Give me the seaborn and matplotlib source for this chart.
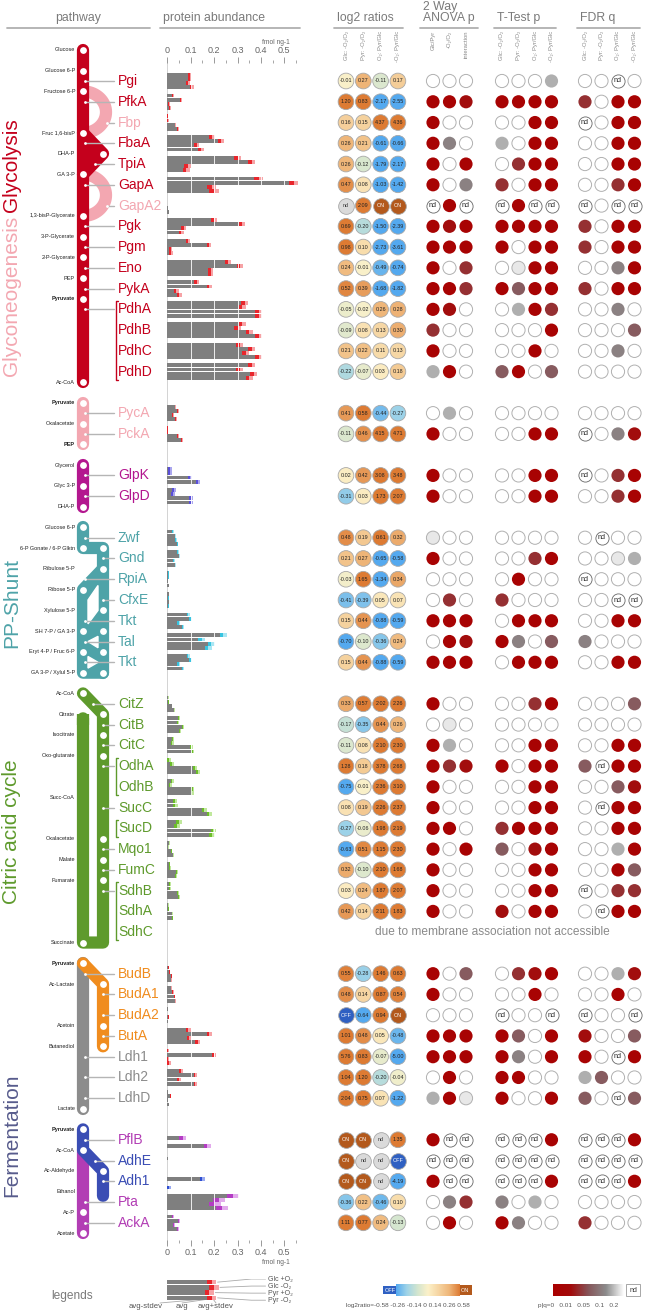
import numpy as np
import pandas as pd
import matplotlib
matplotlib.use('Agg')
import matplotlib.pyplot as plt
from matplotlib.colors import LinearSegmentedColormap, Normalize
import seaborn as sns

sns.set_style('white')
plt.rcParams['font.family'] = ['Liberation Sans', 'DejaVu Sans']

# ---------------- data ----------------
enzymes = ['Pgi', 'PfkA', 'Fbp', 'FbaA', 'TpiA', 'GapA', 'GapA2', 'Pgk', 'Pgm', 'Eno', 'PykA',
           'PdhA', 'PdhB', 'PdhC', 'PdhD', 'PycA', 'PckA', 'GlpK', 'GlpD',
           'Zwf', 'Gnd', 'RpiA', 'CfxE', 'Tkt', 'Tal', 'Tkt',
           'CitZ', 'CitB', 'CitC', 'OdhA', 'OdhB', 'SucC', 'SucD', 'Mqo1', 'FumC', 'SdhB', 'SdhA', 'SdhC',
           'BudB', 'BudA1', 'BudA2', 'ButA', 'Ldh1', 'Ldh2', 'LdhD', 'PflB', 'AdhE', 'Adh1', 'Pta', 'AckA']
rows = (list(range(0, 15)) + [16, 17, 19, 20] + list(range(22, 29)) + list(range(30, 42))
        + list(range(43, 50)) + list(range(51, 56)))
groups = (['gly'] * 2 + ['neo'] + ['gly'] * 3 + ['neo'] + ['gly'] * 8 + ['neo'] * 2 + ['glp'] * 2
          + ['pp'] * 7 + ['tca'] * 12 + ['bud'] * 4 + ['ldh'] * 3 + ['pfl', 'adh', 'adh', 'pfl', 'pfl'])

# protein abundance, fmol ng-1 (avg) for Glc +O2, Glc -O2, Pyr +O2, Pyr -O2
abund_glc_ox = [0.095, 0.025, 0.002, 0.19, 0.30, 0.39, 0, 0.20, 0.09, 0.26, 0.125,
                0.33, 0.32, 0.31, 0.36, 0.035, 0.0025, 0.0115, 0.03,
                0.025, 0.045, 0.006, 0.008, 0.09, 0.24, 0.09,
                0.005, 0.05, 0.024, 0.0085, 0.021, 0.033, 0.05, 0.008, 0.0095, 0.012, 0.005, 0,
                0.007, 0.017, 0.003, 0.09, 0.004, 0.06, 0.0035, 0, 0, 0, 0.28, 0.023]
abund_glc_anox = [0.095, 0.057, 0.003, 0.23, 0.36, 0.54, 0, 0.32, 0.177, 0.31, 0.18,
                  0.32, 0.30, 0.36, 0.31, 0.047, 0.0023, 0.0117, 0.024,
                  0.035, 0.052, 0.006, 0.006, 0.10, 0.148, 0.10,
                  0.0063, 0.044, 0.022, 0.021, 0.0125, 0.035, 0.041, 0.005, 0.012, 0.012, 0.0067, 0,
                  0.01, 0.024, 0, 0.18, 0.20, 0.12, 0.0145, 0.065, 0.003, 0.15, 0.22, 0.05]
abund_pyr_ox = [0.088, 0.006, 0.035, 0.125, 0.087, 0.19, 0.002, 0.07, 0.014, 0.185, 0.039,
                0.39, 0.35, 0.335, 0.37, 0.026, 0.044, 0.098, 0.10,
                0.038, 0.029, 0.0024, 0.008, 0.049, 0.187, 0.049,
                0.02, 0.068, 0.103, 0.117, 0.108, 0.158, 0.197, 0.018, 0.041, 0.044, 0.0216, 0,
                0.019, 0.031, 0.006, 0.093, 0.004, 0.05, 0.0037, 0, 0, 0, 0.205, 0.027]
abund_pyr_anox = [0.105, 0.01, 0.045, 0.145, 0.08, 0.20, 0.008, 0.06, 0.015, 0.185, 0.051,
                  0.39, 0.39, 0.39, 0.35, 0.039, 0.061, 0.13, 0.102,
                  0.044, 0.035, 0.0075, 0.006, 0.067, 0.175, 0.067,
                  0.03, 0.053, 0.109, 0.132, 0.107, 0.18, 0.19, 0.025, 0.038, 0.05, 0.0237, 0,
                  0.016, 0.034, 0.004, 0.13, 0.007, 0.12, 0.0062, 0.17, 0, 0.008, 0.235, 0.046]
abund_sd = [0.008, 0.004, 0.004, 0.012, 0.015, 0.02, 0.001, 0.012, 0.008, 0.012, 0.01,
            0.015, 0.015, 0.015, 0.015, 0.004, 0.004, 0.008, 0.008,
            0.003, 0.003, 0.001, 0.001, 0.006, 0.015, 0.006,
            0.002, 0.004, 0.006, 0.008, 0.007, 0.01, 0.012, 0.002, 0.003, 0.004, 0.002, 0,
            0.002, 0.003, 0.001, 0.01, 0.01, 0.008, 0.001, 0.015, 0.001, 0.01, 0.025, 0.004]

# log2 ratios: Glc -O2/O2, Pyr -O2/O2, O2 Pyr/Glc, -O2 Pyr/Glc
log2_glc = ['-0.01', '1.20', '0.16', '0.26', '0.26', '0.47', 'nd', '0.69', '0.98', '0.24', '0.52',
            '-0.05', '-0.09', '0.21', '-0.22', '0.41', '-0.11', '0.02', '-0.31',
            '0.48', '0.21', '-0.03', '-0.41', '0.15', '-0.70', '0.15',
            '0.33', '-0.17', '-0.11', '1.28', '-0.75', '0.08', '-0.27', '-0.63', '0.32', '0.03', '0.42', '',
            '0.55', '0.48', 'OFF', '1.01', '5.76', '1.04', '2.04', 'ON', 'ON', 'ON', '-0.36', '1.11']
log2_pyr = ['0.27', '0.83', '0.15', '0.21', '-0.12', '0.08', '2.09', '-0.20', '0.10', '-0.01', '0.39',
            '-0.02', '0.08', '0.22', '-0.07', '0.58', '0.46', '0.42', '0.03',
            '0.19', '0.27', '1.65', '-0.39', '0.44', '-0.10', '0.44',
            '0.57', '-0.35', '0.08', '0.18', '-0.01', '0.19', '-0.06', '0.51', '-0.10', '0.24', '0.14', '',
            '-0.28', '0.14', '-0.64', '0.48', '0.83', '1.20', '0.75', 'ON', 'nd', 'ON', '0.22', '0.77']
log2_ox = ['-0.11', '-2.17', '4.37', '-0.61', '-1.79', '-1.03', 'ON', '-1.50', '-2.73', '-0.49', '-1.68',
           '0.26', '0.13', '0.11', '0.03', '-0.44', '4.15', '3.08', '1.73',
           '0.61', '-0.65', '-1.34', '0.05', '-0.88', '-0.36', '-0.88',
           '2.02', '0.44', '2.10', '3.78', '2.36', '2.26', '1.98', '1.15', '2.10', '1.87', '2.11', '',
           '1.46', '0.87', '0.94', '0.05', '-0.07', '-0.20', '0.07', 'nd', 'nd', 'nd', '-0.46', '0.24']
log2_anox = ['0.17', '-2.55', '4.36', '-0.66', '-2.17', '-1.42', 'ON', '-2.39', '-3.61', '-0.74', '-1.82',
             '0.28', '0.30', '0.13', '0.18', '-0.27', '4.71', '3.48', '2.07',
             '0.32', '-0.58', '0.34', '0.07', '-0.59', '0.24', '-0.59',
             '2.26', '0.26', '2.30', '2.68', '3.10', '2.37', '2.19', '2.30', '1.68', '2.07', '1.83', '',
             '0.63', '0.54', 'ON', '-0.48', '-5.00', '-0.04', '-1.22', '1.35', 'OFF', '-4.19', '0.10', '-0.13']

# significance classes read from the circles
# R p<0.01, r ~0.01, m ~0.03, q ~0.05, g ~0.08, l ~0.12, e ~0.17, w >0.2, n not determined
anova_p = ['www', 'RRr', 'Rww', 'Rgw', 'RwR', 'Rwg', 'nRn', 'RrR', 'RRR', 'Rwm', 'RRm',
           'Rrw', 'mww', 'Rww', 'lRw', 'wlw', 'Rww', 'Rww', 'Rww',
           'eww', 'Rww', 'www', 'wmw', 'RRR', 'wRr', 'RRR',
           'Rww', 'wew', 'Rlw', 'Rmr', 'Rww', 'Rww', 'RRw', 'RwR', 'Rww', 'Rww', 'Rww', '',
           'Rwq', 'Rww', 'www', 'RRR', 'RRR', 'wRw', 'lRe', 'Rnn', 'nnn', 'Rnn', 'wgm', 'wRw']
ttest_p = ['wwwl', 'RRRR', 'wwRR', 'lwRR', 'wmRR', 'mwRR', 'nRnn', 'RRRR', 'RwRR', 'weRR', 'RqRR',
           'wlRm', 'wwwR', 'wwRw', 'qRwq', 'wwww', 'wwRR', 'wwRR', 'wwRR',
           'wwww', 'wwmR', 'wRww', 'mwww', 'wRRR', 'Rgwq', 'wRRR',
           'wwmR', 'wwww', 'wwRR', 'RwRR', 'wwRR', 'wwRR', 'mRRR', 'qwrR', 'wwRR', 'wwRR', 'rwRR', '',
           'wmrR', 'wwRw', 'nwwn', 'RqwR', 'RgwR', 'RRww', 'RwwR', 'nnnR', 'nnnn', 'nnnR', 'gwlw', 'Rgww']
fdr_q = ['wwnw', 'mwRR', 'nwRR', 'wwRR', 'wwRR', 'wwmR', 'nwnn', 'mwRR', 'mwRR', 'wwgR', 'mwRR',
         'wwgw', 'wwwq', 'wwgw', 'wwww', 'wwww', 'nwgr', 'nwmR', 'wwmR',
         'wnww', 'wwel', 'nwww', 'wwnn', 'wwRR', 'gwww', 'wwRR',
         'wwwq', 'wwww', 'wwRR', 'qnRR', 'wwqr', 'wnRR', 'wwRR', 'wwlR', 'wwRq', 'nwmm', 'wnRR', '',
         'wwlr', 'wwRw', 'nwwn', 'rwwq', 'RwnR', 'lqww', 'qwnq', 'nnnR', 'nnnn', 'nnnR', 'wwww', 'mwww']
p_level = {'R': 0.003, 'r': 0.011, 'm': 0.03, 'q': 0.055, 'g': 0.09, 'l': 0.13, 'e': 0.18, 'w': 0.5}

log2_cols = ['Glc: -O\u2082/O\u2082', 'Pyr: -O\u2082/O\u2082', 'O\u2082: Pyr/Glc', '-O\u2082: Pyr/Glc']
anova_cols = ['Glc/Pyr', '-O\u2082/O\u2082', 'interaction']
log2_ticks = ['-0.58', '-0.26', '-0.14', '0', '0.14', '0.26', '0.58']
p_ticks = ['0', '0.01', '0.05', '0.1', '0.2']

metabolites = [('Glucose', -1.5, 0), ('Glucose 6-P', -0.5, 0), ('Fructose 6-P', 0.5, 0),
               ('Fruc 1,6-bisP', 2.5, 0), ('DHA-P', 3.5, 0), ('GA 3-P', 4.5, 0),
               ('1,3-bisP-Glycerate', 6.5, 0), ('3-P-Glycerate', 7.5, 0), ('2-P-Glycerate', 8.5, 0),
               ('PEP', 9.5, 0), ('Pyruvate', 10.5, 1), ('Ac-CoA', 14.5, 0),
               ('Pyruvate', 15.5, 1), ('Oxalacetate', 16.5, 0), ('PEP', 17.5, 1),
               ('Glycerol', 18.5, 0), ('Glyc 3-P', 19.5, 0), ('DHA-P', 20.5, 0),
               ('Glucose 6-P', 21.5, 0), ('6-P Gonate / 6-P Glktn', 22.5, 0), ('Ribulose 5-P', 23.5, 0),
               ('Ribose 5-P', 24.5, 0), ('Xylulose 5-P', 25.5, 0), ('SH 7-P / GA 3-P', 26.5, 0),
               ('Eryt 4-P / Fruc 6-P', 27.5, 0), ('GA 3-P / Xylul 5-P', 28.5, 0),
               ('Ac-CoA', 29.5, 0), ('Citrate', 30.5, 0), ('Isocitrate', 31.5, 0), ('Oxo-glutarate', 32.5, 0),
               ('Succ-CoA', 34.5, 0), ('Oxalacetate', 36.5, 0), ('Malate', 37.5, 0), ('Fumarate', 38.5, 0),
               ('Succinate', 41.5, 0),
               ('Pyruvate', 42.5, 1), ('Ac-Lactate', 43.5, 0), ('Acetoin', 45.5, 0), ('Butanediol', 46.5, 0),
               ('Lactate', 49.5, 0),
               ('Pyruvate', 50.5, 1), ('Ac-CoA', 51.5, 0), ('Ac-Aldehyde', 52.5, 0), ('Ethanol', 53.5, 0),
               ('Ac-P', 54.5, 0), ('Acetate', 55.5, 0)]

# ---------------- style ----------------
label_color = {'gly': '#c4001c', 'neo': '#f3a7b1', 'glp': '#b3168f', 'pp': '#4ea3a8', 'tca': '#5e9a2c',
               'bud': '#f08c1e', 'ldh': '#8c8c8c', 'pfl': '#b23db4', 'adh': '#3a4db4'}
bar_color = {'gly': ('#e8262c', '#f6a3a6'), 'neo': ('#e8262c', '#f6a3a6'), 'glp': ('#5a4fd8', '#aaa6ee'),
             'pp': ('#38c4e0', '#a9e6f3'), 'tca': ('#6cbd2a', '#c0e89c'), 'bud': ('#e8262c', '#f6a3a6'),
             'ldh': ('#e8262c', '#f6a3a6'), 'pfl': ('#b43cc4', '#e2aaec'), 'adh': ('#2f4fd0', '#9aaaf0')}
GREY_TXT = '#7a7a7a'

W, H = 651, 1313
Y0, DY = 81.0, 20.76           # pixel of row 0 and row pitch
ROW_TOP, ROW_BOT = -Y0 / DY, (H - Y0) / DY


def R(px):
    return (px - Y0) / DY


fig = plt.figure(figsize=(W / 100, H / 100), dpi=100)


def add_ax(x0, x1, xlim, y0=0, y1=H, ylim=None):
    ax = fig.add_axes([x0 / W, 1 - y1 / H, (x1 - x0) / W, (y1 - y0) / H])
    ax.set_xlim(*xlim)
    ax.set_ylim(*(ylim if ylim else (ROW_BOT, ROW_TOP)))
    ax.axis('off')
    return ax


bg = add_ax(0, W, (0, W))

# headers
for txt, x0, x1 in [('pathway', 10, 150), ('protein abundance', 163, 300), ('log2 ratios', 337, 403),
                    ('2 Way\nANOVA p', 423, 478), ('T-Test p', 497, 556), ('FDR q', 580, 640)]:
    cx = 78 if txt == 'pathway' else x0
    bg.text(cx, R(24), txt, ha='center' if txt == 'pathway' else 'left', va='bottom',
            fontsize=8.8, color=GREY_TXT, linespacing=0.9)
    bg.plot([x0 - 3, x1], [R(27.5), R(27.5)], color='#b0b0b0', lw=1.3)

# ---------------- pathway diagram ----------------
XA, XB = 83, 103
LW = 8.8


def pipe(xs, ys, color, z=2, lw=LW):
    bg.plot(xs, ys, color=color, lw=lw, solid_capstyle='round', solid_joinstyle='round', zorder=z)


def holes(pts):
    xs, ys = zip(*pts)
    bg.scatter(xs, ys, s=24, color='white', zorder=6, linewidths=0)


red, pink, mag, teal, green = '#c4001c', '#f3a7b1', '#b3168f', '#4ea3a8', '#5e9a2c'
orange, grey, purple, blue = '#f08c1e', '#8c8c8c', '#b23db4', '#3a4db4'

# glycolysis
pipe([XA, XA], [-1.5, 14.5], red)
bg.fill([XA, XB, XA], [2.5, 3.5, 4.5], color=red, zorder=2)
pipe([XA, XB, XA], [2.5, 3.5, 4.5], red)
t = np.linspace(0, np.pi, 50)
pipe(XA + 23 * np.sin(t), 1.5 - np.cos(t), pink, z=1)
pipe(XA + 23 * np.sin(t), 5.5 - np.cos(t), pink, z=1)
holes([(XA, r) for r in [-1.5, -0.5, 0.5, 2.5, 4.5, 6.5, 7.5, 8.5, 9.5, 10.5, 14.5]] + [(XB, 3.5)])
# gluconeogenesis, glycerol
pipe([XA, XA], [15.5, 17.5], pink)
holes([(XA, r) for r in [15.5, 16.5, 17.5]])
pipe([XA, XA], [18.5, 20.5], mag)
holes([(XA, r) for r in [18.5, 19.5, 20.5]])
# pentose phosphate
pipe([XA, XA, XB, XB], [21.5, 22.5, 22.5, 28.5], teal)
bg.fill([XB, XA, XA, XB], [23.5, 24.5, 28.5, 28.5], color=teal, zorder=2)
pipe([XB, XA, XA, XB], [23.5, 24.5, 28.5, 28.5], teal)
bg.fill([XA + 5, XB - 5, XB - 5, XA + 5], [25.0, 24.3, 25.5, 26.15], color='white', zorder=3)
bg.fill([XA + 5, XB - 5, XB - 5], [27.0, 26.75, 27.3], color='white', zorder=3)
bg.fill([XB - 5, XA + 5, XA + 5], [28.0, 27.72, 28.28], color='white', zorder=3)
holes([(XA, 21.5), (XA, 22.5), (XB, 22.5), (XB, 23.5), (XA, 24.5), (XB, 25.5)]
      + [(x, r) for r in [26.5, 27.5, 28.5] for x in (XA, XB)])
# citric acid cycle
pipe([XA, XB, XB, XA, XA], [29.5, 30.5, 41.5, 41.5, 30.7], green)
bg.plot([XA, XA], [30.5, 31.0], color=green, lw=LW, solid_capstyle='butt', zorder=2)
holes([(XA, 29.5), (XB, 30.5), (XB, 31.5), (XB, 32.5), (XB, 36.5), (XB, 37.5), (XB, 38.5), (XA, 41.5)])
# fermentation
pipe([XA, XA], [42.5, 49.5], grey, z=1)
pipe([XA, XB, XB], [42.5, 43.5, 46.5], orange)
holes([(XA, 42.5), (XB, 43.5), (XB, 45.5), (XB, 46.5), (XA, 49.5)])
pipe([XA, XA], [51.5, 55.5], purple, z=1)
pipe([XA, XA, XB, XB], [50.5, 51.5, 52.5, 53.7], blue)
holes([(XA, 50.5), (XA, 51.5), (XB, 52.5), (XA, 54.5), (XA, 55.5)])

# metabolite labels
for name, r, bold in metabolites:
    bg.text(75, r, name, ha='right', va='center', fontsize=4.0,
            fontweight='bold' if bold else 'normal', color='#222222')

# enzyme labels and connectors
conn_start = {'Fbp': XA + 24, 'GapA2': XA + 24, 'TpiA': XA + 12, 'Gnd': XB, 'CfxE': XB,
              'AdhE': XA + 12, 'Adh1': XB, 'CitB': XB, 'CitC': XB, 'OdhA': XB, 'SucC': XB,
              'Mqo1': XB, 'FumC': XB, 'SdhB': XB, 'BudA1': XB, 'BudA2': XB, 'ButA': XB, 'CitZ': XA + 10}
no_conn = {'PdhB', 'PdhC', 'PdhD', 'OdhB', 'SucD', 'SdhA', 'SdhC'}
for name, r, g in zip(enzymes, rows, groups):
    bg.text(118, r, name, ha='left', va='center', fontsize=10, color=label_color[g])
    if name not in no_conn:
        x0 = conn_start.get(name, XA + 2)
        bg.plot([x0, 114], [r, r], color='#b5b5b5', lw=1.0, zorder=4)
        bg.scatter([x0], [r], s=4, color='white', zorder=7, linewidths=0)
for ra, rb, col in [(10.6, 14.4, red), (32.6, 34.4, green), (35.6, 36.4, green), (38.6, 41.4, green)]:
    bg.plot([118, 115.5, 115.5, 118], [ra, ra, rb, rb], color=col, lw=1.0)

# section titles
for txt, r, col in [('Glycolysis', R(165), red), ('Glyconeogenesis', R(296), pink),
                    ('PP-Shunt', R(603), teal), ('Citric acid cycle', R(832), green),
                    ('Fermentation', R(1135), '#575b8c')]:
    bg.text(11.5, r, txt, rotation=90, ha='center', va='center', fontsize=15, color=col)

# ---------------- protein abundance bars ----------------
BX0, SCALE = 167.3, 234.0      # pixel of 0 and pixels per fmol ng-1
XMAX = 0.6
axb = add_ax(BX0, BX0 + SCALE * XMAX, (0, XMAX))
conds = [abund_glc_ox, abund_glc_anox, abund_pyr_ox, abund_pyr_anox]
for k, vals in enumerate(conds):
    y = np.array(rows) + (k - 1.5) * 0.2
    avg = np.array(vals)
    sd = np.minimum(np.array(abund_sd), avg)
    dark = [bar_color[g][0] for g in groups]
    light = [bar_color[g][1] for g in groups]
    axb.barh(y, avg - sd, height=0.185, color='#7f7f7f', linewidth=0)
    axb.barh(y, sd, left=avg - sd, height=0.185, color=dark, linewidth=0)
    axb.barh(y, sd, left=avg, height=0.185, color=light, linewidth=0)
axb.vlines(0, -1.0, 56.0, color='#cccccc', lw=0.6, zorder=0)
axb.vlines(np.arange(0.1, 0.51, 0.1), -0.6, 55.6, color='white', lw=0.6, zorder=5)


def tick_axis(y_px, top):
    ax = fig.add_axes([BX0 / W, 1 - y_px / H, SCALE * XMAX / W, 1e-4])
    ax.set_xlim(0, XMAX)
    for s in ax.spines.values():
        s.set_visible(False)
    ax.set_yticks([])
    ax.set_xticks(np.arange(0, 0.51, 0.1))
    ax.set_xticklabels(['0', '0.1', '0.2', '0.3', '0.4', '0.5'])
    ax.set_xticks(np.arange(0.05, 0.56, 0.1), minor=True)
    ax.tick_params(axis='x', which='major', length=4, width=0.7, color='#999999',
                   labelsize=6.5, labelcolor='#666666', pad=1.5,
                   top=top, labeltop=top, bottom=not top, labelbottom=not top)
    ax.tick_params(axis='x', which='minor', length=2, width=0.6, color='#999999',
                   top=top, bottom=not top)
    return ax


tick_axis(63, True)
tick_axis(1240, False)
bg.text(290, R(42), 'fmol ng-1', ha='right', va='center', fontsize=4.8, color='#666666')
bg.text(290, R(1263), 'fmol ng-1', ha='right', va='center', fontsize=4.8, color='#666666')

# ---------------- log2 ratio circles ----------------
l2_colors = ['#54a9ef', '#9ed3e8', '#d2e5cf', '#fcf1c9', '#f6d5a2', '#efb679', '#dd7b33']
l2_cmap = LinearSegmentedColormap.from_list('l2', list(zip(
    [(float(v) + 0.58) / 1.16 for v in log2_ticks], l2_colors)))
l2_norm = Normalize(-0.58, 0.58, clip=True)
special = {'ON': ('#b3591c', 'white'), 'OFF': ('#2f60c2', 'white'), 'nd': ('#dadada', '#333333')}

LX, LSP = 346, 17.3
axl = add_ax(LX - LSP / 2, LX + 3.5 * LSP, (-0.5, 3.5))
recs = []
for c, col in enumerate([log2_glc, log2_pyr, log2_ox, log2_anox]):
    for r, v in zip(rows, col):
        if v:
            recs.append((c, r, v))
l2 = pd.DataFrame(recs, columns=['col', 'row', 'txt'])
num = l2[~l2.txt.isin(special.keys())].copy()
num['val'] = num.txt.astype(float)
sns.scatterplot(data=num, x='col', y='row', hue='val', palette=l2_cmap, hue_norm=l2_norm,
                s=128, edgecolor='#a8a8a8', linewidth=0.6, legend=False, ax=axl, zorder=3)
for key, (fc, tc) in special.items():
    sub = l2[l2.txt == key]
    if len(sub):
        sns.scatterplot(data=sub, x='col', y='row', color=fc, s=128, edgecolor='#a8a8a8',
                        linewidth=0.6, legend=False, ax=axl, zorder=3)
for _, rec in l2.iterrows():
    tc = special[rec.txt][1] if rec.txt in special else '#222222'
    axl.text(rec.col, rec.row, rec.txt, ha='center', va='center', fontsize=3.9, color=tc, zorder=4)
axl.axis('off')
axl.set_xlim(-0.5, 3.5)
axl.set_ylim(ROW_BOT, ROW_TOP)
for c, lab in enumerate(log2_cols):
    axl.text(c, R(31), lab, rotation=90, ha='center', va='top', fontsize=4.2, color='#888888')

# ---------------- p / q circles ----------------
p_colors = ['#aa0000', '#a30b0b', '#86565a', '#8c8c8c', '#ffffff']
p_cmap = LinearSegmentedColormap.from_list('p', list(zip([0.0, 0.05, 0.25, 0.5, 1.0], p_colors)))
p_norm = Normalize(0, 0.2, clip=True)
PSP = 16.5
for codes, x_first, labels in [(anova_p, 433, anova_cols), (ttest_p, 502, log2_cols),
                               (fdr_q, 585, log2_cols)]:
    n = len(labels)
    ax = add_ax(x_first - PSP / 2, x_first + (n - 0.5) * PSP, (-0.5, n - 0.5))
    recs = [(c, r, ch) for r, s in zip(rows, codes) for c, ch in enumerate(s)]
    df = pd.DataFrame(recs, columns=['col', 'row', 'code'])
    vals = df[df.code != 'n'].copy()
    vals['p'] = vals.code.map(p_level)
    edges = ['#b0b0b0' if p > 0.15 else 'none' for p in vals.p]
    sns.scatterplot(data=vals, x='col', y='row', hue='p', palette=p_cmap, hue_norm=p_norm,
                    s=90, edgecolor=edges, linewidth=0.7, legend=False, ax=ax, zorder=3)
    nd = df[df.code == 'n']
    sns.scatterplot(data=nd, x='col', y='row', color='white', s=90, edgecolor='#666666',
                    linewidth=0.6, legend=False, ax=ax, zorder=3)
    for _, rec in nd.iterrows():
        ax.text(rec.col, rec.row, 'nd', ha='center', va='center', fontsize=5.2, color='#222222', zorder=4)
    ax.axis('off')
    ax.set_xlim(-0.5, n - 0.5)
    ax.set_ylim(ROW_BOT, ROW_TOP)
    for c, lab in enumerate(labels):
        ax.text(c, R(31), lab, rotation=90, ha='center', va='top', fontsize=4.2, color='#888888')

bg.text(492, 41, 'due to membrane association not accessible', ha='center', va='center',
        fontsize=8.6, color='#8a8a8a')

# ---------------- legends ----------------
bg.text(72, R(1296), 'legends', ha='center', va='center', fontsize=8.6, color=GREY_TXT)
axlg = add_ax(BX0, BX0 + SCALE * XMAX, (0, XMAX), 1279, 1301, (3.6, -0.6))
leg_avg = [0.19, 0.2, 0.18, 0.19]
for k in range(4):
    axlg.barh(k, leg_avg[k] - 0.02, height=0.85, color='#7f7f7f', linewidth=0)
    axlg.barh(k, 0.02, left=leg_avg[k] - 0.02, height=0.85, color='#e8262c', linewidth=0)
    axlg.barh(k, 0.02, left=leg_avg[k], height=0.85, color='#f6a3a6', linewidth=0)
for k, lab in enumerate(['Glc +O\u2082', 'Glc -O\u2082', 'Pyr +O\u2082', 'Pyr -O\u2082']):
    ylab = -0.6 + k * 1.35
    axlg.plot([leg_avg[k] + 0.025, 0.36, 0.42], [k, ylab, ylab], color='#aaaaaa', lw=0.6)
    axlg.text(0.43, ylab, lab, fontsize=5, va='center', color='#555555')
for lab, x, xp in [('avg-stdev', 146, 205), ('avg', 182, 209), ('avg+stdev', 216, 213)]:
    bg.text(x, R(1307), lab, ha='center', va='center', fontsize=5.6, color='#555555')
    bg.plot([x + (14 if x < 170 else 0), xp], [R(1303), R(1299)], color='#aaaaaa', lw=0.6)

cb1 = add_ax(396, 460, (0, 1), 1284, 1296, (0, 1))
cb1.imshow(np.linspace(0, 1, 256)[None, :], aspect='auto', extent=(0, 1, 0, 1),
           cmap=LinearSegmentedColormap.from_list('l2leg', l2_colors))
bg.text(390, R(1290), 'OFF', ha='center', va='center', fontsize=4, color='white',
        bbox=dict(boxstyle='square,pad=0.35', fc='#2f60c2', ec='none'))
bg.text(465, R(1290), 'ON', ha='center', va='center', fontsize=4, color='white',
        bbox=dict(boxstyle='square,pad=0.45', fc='#b3591c', ec='none'))
bg.text(470, R(1306), 'log2ratio=' + ' '.join(log2_ticks), ha='right', va='center',
        fontsize=4.6, color='#555555')

cb2 = add_ax(553, 624, (0, 1), 1284, 1296, (0, 1))
cb2.imshow(np.linspace(0, 1, 256)[None, :], aspect='auto', extent=(0, 1, 0, 1),
           cmap=LinearSegmentedColormap.from_list('pleg', p_colors))
bg.text(633, R(1290), 'nd', ha='center', va='center', fontsize=5, color='#333333',
        bbox=dict(boxstyle='square,pad=0.4', fc='white', ec='#999999', lw=0.6))
bg.text(538, R(1306), 'p|q=' + '   '.join(p_ticks), ha='left', va='center',
        fontsize=4.6, color='#555555')

fig.savefig('out.png', dpi=100)
